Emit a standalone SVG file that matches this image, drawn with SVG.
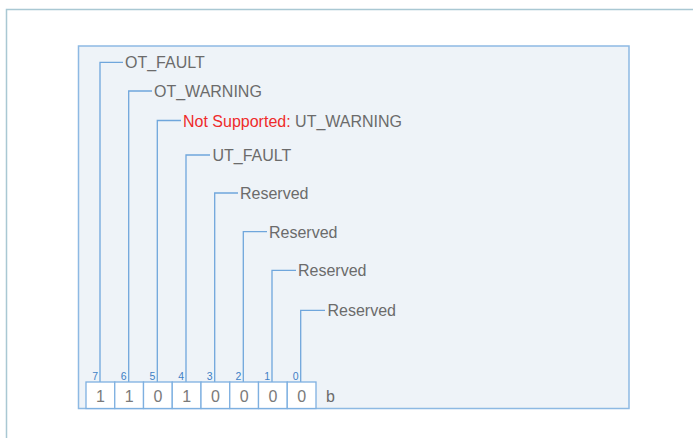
<svg xmlns="http://www.w3.org/2000/svg" width="693" height="438" viewBox="0 0 693 438">
<style>
.frame{fill:none;stroke:#a9c8d3;stroke-width:1.5}
.panel{fill:#eef3f8;stroke:#8db9e3;stroke-width:1.5}
.ln{fill:none;stroke:#6fa6dc;stroke-width:1.3}
.lbl{font-family:"Liberation Sans",Arial,sans-serif;font-size:16px;fill:#6b6b6b}
.red{fill:#ee2b2b}
.box{fill:#ffffff;stroke:#7eb0e0;stroke-width:1.3}
.bit{font-family:"Liberation Sans",Arial,sans-serif;font-size:16px;fill:#7a7a7a;text-anchor:middle}
.idx{font-family:"Liberation Sans",Arial,sans-serif;font-size:10.5px;fill:#3d7fc6;text-anchor:end}
</style>
<path class="frame" d="M6.5,438 V9.5 H693"/>
<rect id="panel" class="panel" x="78.5" y="46" width="550.5" height="362.5"/>
<g id="connectors">
<path class="ln" d="M100,382 V62.3 H123"/>
<path class="ln" d="M128.7,382 V91 H152"/>
<path class="ln" d="M157.3,382 V120.5 H181"/>
<path class="ln" d="M186,382 V155 H210"/>
<path class="ln" d="M214.7,382 V193 H238"/>
<path class="ln" d="M243.3,382 V231.7 H267"/>
<path class="ln" d="M272,382 V270.3 H296"/>
<path class="ln" d="M300.7,382 V310.3 H325"/>
</g>
<g id="f7"><text class="lbl" x="125" y="68.3">OT_FAULT</text></g>
<g id="f6"><text class="lbl" x="154" y="97">OT_WARNING</text></g>
<g id="f5"><text class="lbl" x="183" y="126.5"><tspan class="red">Not Supported:</tspan> UT_WARNING</text></g>
<g id="f4"><text class="lbl" x="212.5" y="161">UT_FAULT</text></g>
<g id="f3"><text class="lbl" x="240" y="199">Reserved</text></g>
<g id="f2"><text class="lbl" x="269" y="237.7">Reserved</text></g>
<g id="f1"><text class="lbl" x="298" y="276.3">Reserved</text></g>
<g id="f0"><text class="lbl" x="327.5" y="316.3">Reserved</text></g>
<g id="register">
<rect class="box" x="86" y="382" width="28.75" height="26.5"/>
<rect class="box" x="114.75" y="382" width="28.75" height="26.5"/>
<rect class="box" x="143.5" y="382" width="28.75" height="26.5"/>
<rect class="box" x="172.25" y="382" width="28.75" height="26.5"/>
<rect class="box" x="201" y="382" width="28.75" height="26.5"/>
<rect class="box" x="229.75" y="382" width="28.75" height="26.5"/>
<rect class="box" x="258.5" y="382" width="28.75" height="26.5"/>
<rect class="box" x="287.25" y="382" width="28.75" height="26.5"/>
<text class="bit" x="100.4" y="402">1</text>
<text class="bit" x="129.1" y="402">1</text>
<text class="bit" x="157.9" y="402">0</text>
<text class="bit" x="186.6" y="402">1</text>
<text class="bit" x="215.4" y="402">0</text>
<text class="bit" x="244.1" y="402">0</text>
<text class="bit" x="272.9" y="402">0</text>
<text class="bit" x="301.6" y="402">0</text>
<text class="lbl" x="326" y="402">b</text>
<text class="idx" x="98" y="380">7</text>
<text class="idx" x="126.7" y="380">6</text>
<text class="idx" x="155.3" y="380">5</text>
<text class="idx" x="184" y="380">4</text>
<text class="idx" x="212.7" y="380">3</text>
<text class="idx" x="241.3" y="380">2</text>
<text class="idx" x="270" y="380">1</text>
<text class="idx" x="298.7" y="380">0</text>
</g>
</svg>
